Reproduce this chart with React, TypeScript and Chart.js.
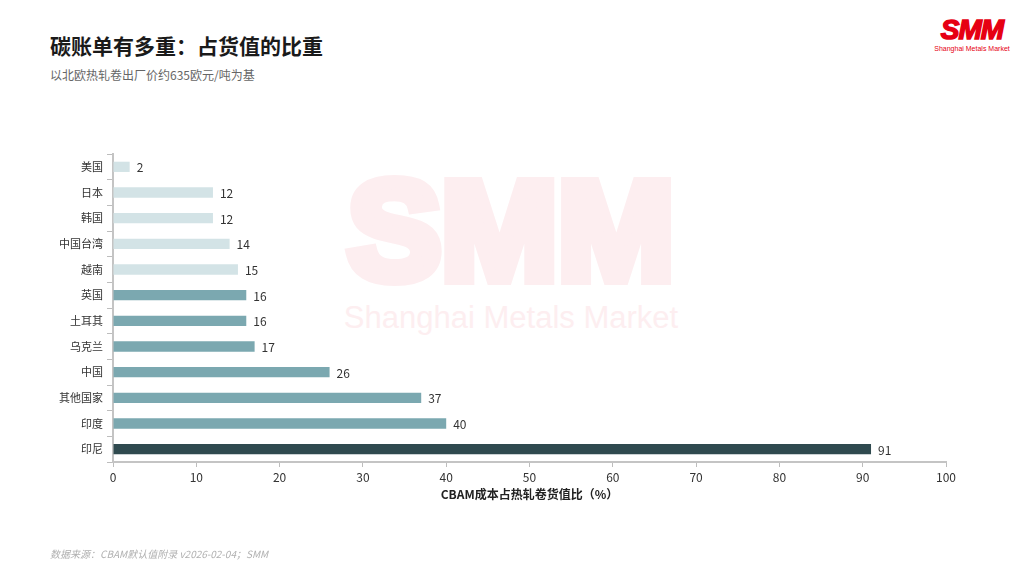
import React, { useEffect, useRef } from "react";
import { Chart, registerables } from "chart.js";

Chart.register(...registerables);

const categories = ["美国", "日本", "韩国", "中国台湾", "越南", "英国", "土耳其", "乌克兰", "中国", "其他国家", "印度", "印尼"];
const values = [2, 12, 12, 14, 15, 16, 16, 17, 26, 37, 40, 91];
const groups = ["low", "low", "low", "low", "low", "mid", "mid", "mid", "mid", "mid", "mid", "high"];
const xTicks = [0, 10, 20, 30, 40, 50, 60, 70, 80, 90, 100];

const TITLE = "碳账单有多重：占货值的比重";
const SUBTITLE = "以北欧热轧卷出厂价约635欧元/吨为基";
const X_TITLE = "CBAM成本占热轧卷货值比（%）";
const SOURCE = "数据来源：CBAM默认值附录 v2026-02-04；SMM";

const FONT = "'Noto Sans CJK SC', 'Noto Sans', sans-serif";
const groupColor: Record<string, string> = { low: "#d3e3e6", mid: "#7ba8b0", high: "#2f4a4f" };

const valueLabels = {
  id: "valueLabels",
  afterDatasetsDraw(chart: any) {
    const ctx = chart.ctx;
    const meta = chart.getDatasetMeta(0);
    ctx.save();
    ctx.font = `12px ${FONT}`;
    ctx.fillStyle = "#333333";
    ctx.textAlign = "left";
    ctx.textBaseline = "middle";
    meta.data.forEach((bar: any, i: number) => {
      ctx.fillText(String(values[i]), bar.x + 7, bar.y + 1);
    });
    ctx.restore();
  },
};

export default function App() {
  const ref = useRef<HTMLCanvasElement | null>(null);

  useEffect(() => {
    if (!ref.current) return;
    const chart = new Chart(ref.current, {
      type: "bar",
      data: {
        labels: categories,
        datasets: [
          {
            data: values,
            backgroundColor: groups.map((g) => groupColor[g]),
            barPercentage: 0.4,
            categoryPercentage: 1,
          },
        ],
      },
      options: {
        indexAxis: "y",
        animation: false,
        responsive: false,
        maintainAspectRatio: false,
        devicePixelRatio: 1,
        layout: { padding: { left: 0, right: 78, top: 154, bottom: 0 } },
        plugins: { legend: { display: false }, tooltip: { enabled: false }, title: { display: false } },
        scales: {
          x: {
            type: "linear",
            min: 0,
            max: 100,
            afterBuildTicks: (scale: any) => {
              scale.ticks = xTicks.map((v) => ({ value: v }));
            },
            afterFit: (scale: any) => {
              scale.height = 114;
            },
            grid: { drawOnChartArea: false, drawTicks: true, tickLength: 5, color: "#bdbdbd", lineWidth: 1 },
            border: { display: true, color: "#c4c4c4", width: 2 },
            ticks: { color: "#333333", font: { family: FONT, size: 12 }, padding: 3 },
            title: {
              display: true,
              text: X_TITLE,
              color: "#222222",
              font: { family: FONT, size: 12, weight: "bold" },
              padding: { top: 0, bottom: 74 },
            },
          },
          y: {
            type: "category",
            afterFit: (scale: any) => {
              scale.width = 113;
            },
            grid: { drawOnChartArea: false, drawTicks: true, tickLength: 6, color: "#bdbdbd", lineWidth: 1, offset: true },
            border: { display: true, color: "#c4c4c4", width: 2 },
            ticks: { color: "#333333", font: { family: FONT, size: 11 }, padding: 4 },
          },
        },
      },
      plugins: [valueLabels],
    } as any);
    return () => chart.destroy();
  }, []);

  return (
    <div style={{ position: "absolute", left: 0, top: 0, width: 1024, height: 576, background: "#ffffff", overflow: "hidden", fontFamily: FONT }}>
      {/* watermark */}
      <div style={{ position: "absolute", left: 326, top: 158, width: 370, textAlign: "center", color: "#fdeef0", WebkitTextStroke: "12px #fdeef0", fontFamily: "'Liberation Sans', Arial, sans-serif", fontWeight: 700, fontSize: 140, lineHeight: "146px", letterSpacing: 0, whiteSpace: "nowrap" }}>
        SMM
      </div>
      <div style={{ position: "absolute", left: 330, top: 300, width: 362, textAlign: "center", color: "#fdeef0", fontFamily: "'Liberation Sans', Arial, sans-serif", fontSize: 31, lineHeight: "36px", whiteSpace: "nowrap" }}>
        Shanghai Metals Market
      </div>
      {/* logo */}
      <div style={{ position: "absolute", left: 930, top: 14, width: 84, textAlign: "center", color: "#e60012", WebkitTextStroke: "1.5px #e60012", fontFamily: "'Liberation Sans', Arial, sans-serif", fontWeight: 700, fontStyle: "italic", fontSize: 28, lineHeight: "32px", letterSpacing: -1, whiteSpace: "nowrap" }}>
        SMM
      </div>
      <div style={{ position: "absolute", left: 928, top: 44, width: 88, textAlign: "center", color: "#e60012", fontFamily: "'Liberation Sans', Arial, sans-serif", fontSize: 7, lineHeight: "9px", whiteSpace: "nowrap" }}>
        Shanghai Metals Market
      </div>
      {/* titles */}
      <div style={{ position: "absolute", left: 50, top: 31, color: "#1a1a1a", fontWeight: 700, fontSize: 21, lineHeight: "28px", whiteSpace: "nowrap" }}>{TITLE}</div>
      <div style={{ position: "absolute", left: 50, top: 66, color: "#666666", fontSize: 12, lineHeight: "18px", whiteSpace: "nowrap" }}>{SUBTITLE}</div>
      <canvas ref={ref} width={1024} height={576} style={{ position: "absolute", left: 0, top: 0, width: 1024, height: 576 }} />
      <div style={{ position: "absolute", left: 50, top: 547, color: "#b0b0b0", fontStyle: "italic", fontSize: 10, lineHeight: "14px", whiteSpace: "nowrap" }}>{SOURCE}</div>
    </div>
  );
}
